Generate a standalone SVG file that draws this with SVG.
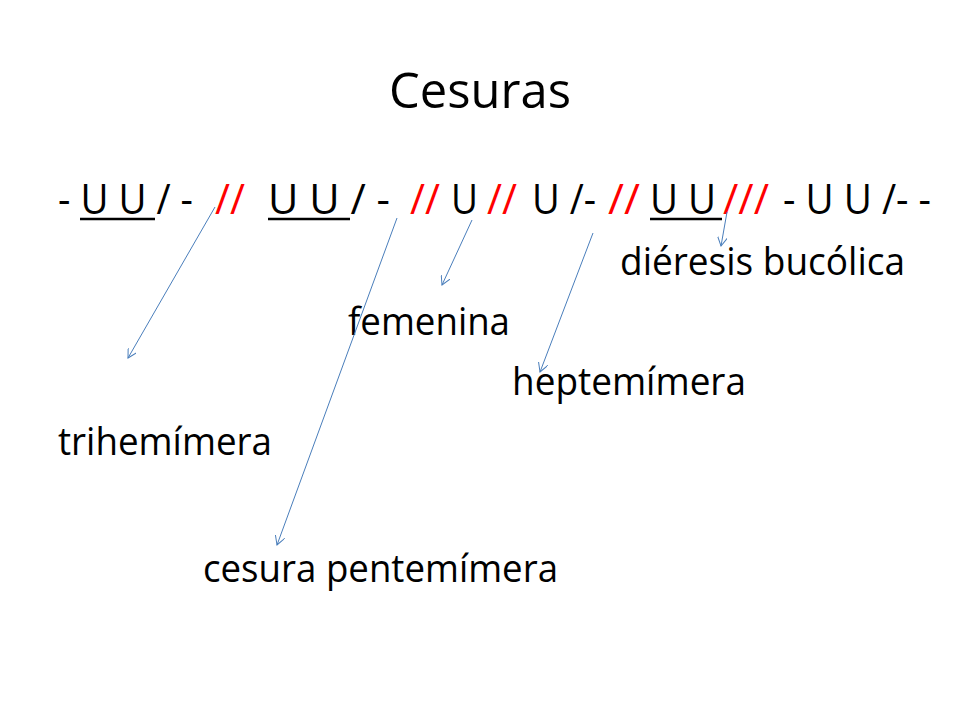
<svg xmlns="http://www.w3.org/2000/svg" width="960" height="720" viewBox="0 0 960 720">
<defs>
<style>
text{font-family:"Open Sans","Liberation Sans",sans-serif;fill:#000;}
.m{font-size:42px;}
.r{fill:#ff0000;}
.l{font-size:38px;}
.c{stroke:#4a7ebb;stroke-width:1;fill:none;marker-end:url(#a);}
.u{stroke:#000;stroke-width:2.5;}
</style>
<marker id="a" markerWidth="10" markerHeight="10" refX="9" refY="5" orient="auto" markerUnits="userSpaceOnUse">
<path d="M0,0 L9,5 L0,10" fill="none" stroke="#4a7ebb" stroke-width="1"/>
</marker>
</defs>
<rect width="960" height="720" fill="#fff"/>
<g id="title"><text x="480" y="108" font-size="50" text-anchor="middle" textLength="182" lengthAdjust="spacingAndGlyphs">Cesuras</text></g>
<g id="verse">
<text class="m" y="214"><tspan x="58" textLength="135" lengthAdjust="spacingAndGlyphs">- U U / -</tspan><tspan class="r" x="215" textLength="30" lengthAdjust="spacingAndGlyphs">//</tspan><tspan x="268" textLength="122" lengthAdjust="spacingAndGlyphs">U U  / -</tspan><tspan class="r" x="410" textLength="30" lengthAdjust="spacingAndGlyphs">//</tspan><tspan x="451" textLength="27" lengthAdjust="spacingAndGlyphs">U</tspan><tspan class="r" x="487" textLength="30" lengthAdjust="spacingAndGlyphs">//</tspan><tspan x="532" textLength="64" lengthAdjust="spacingAndGlyphs">U /-</tspan><tspan class="r" x="608" textLength="32" lengthAdjust="spacingAndGlyphs">//</tspan><tspan x="650" textLength="66" lengthAdjust="spacingAndGlyphs">U U</tspan><tspan class="r" x="723" textLength="46" lengthAdjust="spacingAndGlyphs">///</tspan><tspan x="783" textLength="148" lengthAdjust="spacingAndGlyphs">- U U /- -</tspan></text>
<line class="u" x1="80" y1="219" x2="155" y2="219"/>
<line class="u" x1="268" y1="219" x2="350" y2="219"/>
<line class="u" x1="650" y1="219" x2="722" y2="219"/>
</g>
<g id="dieresis"><text class="l" x="620" y="275" textLength="285" lengthAdjust="spacingAndGlyphs">diéresis bucólica</text></g>
<g id="femenina"><text class="l" x="348" y="335" textLength="162" lengthAdjust="spacingAndGlyphs">femenina</text></g>
<g id="heptemimera"><text class="l" x="512" y="395" textLength="234" lengthAdjust="spacingAndGlyphs">heptemímera</text></g>
<g id="trihemimera"><text class="l" x="58" y="455" textLength="214" lengthAdjust="spacingAndGlyphs">trihemímera</text></g>
<g id="pentemimera"><text class="l" x="203" y="582" textLength="355" lengthAdjust="spacingAndGlyphs">cesura pentemímera</text></g>
<g id="connectors">
<line class="c" x1="215" y1="207" x2="128" y2="358"/>
<line class="c" x1="397" y1="218" x2="277" y2="545"/>
<line class="c" x1="472" y1="220" x2="442" y2="285"/>
<line class="c" x1="593" y1="233" x2="540" y2="372"/>
<line class="c" x1="727" y1="212" x2="721" y2="246"/>
</g>
</svg>
